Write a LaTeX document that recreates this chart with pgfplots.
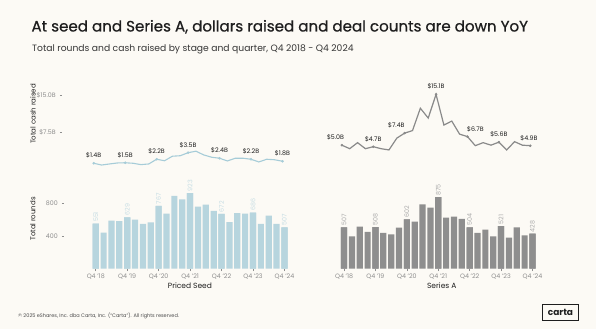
\documentclass[border=0pt]{standalone}
\usepackage{fontspec}
\setmainfont{Poppins}
\newfontfamily\titlefont{Poppins}[FakeBold=0.7]
\usepackage{pgfplots}
\pgfplotsset{compat=1.18}
\definecolor{bg}{HTML}{FCFAF5}
\definecolor{dark}{HTML}{1E1E1E}
\definecolor{tickgray}{HTML}{8E8E8E}
\definecolor{seedbar}{HTML}{B7D5DE}
\definecolor{seedline}{HTML}{A6CCD8}
\definecolor{seedlab}{HTML}{C6DDE4}
\definecolor{abar}{HTML}{8E8E8E}
\definecolor{aline}{HTML}{8A8A8A}
\definecolor{alab}{HTML}{ABABAB}
\pgfplotsset{
  base/.style={scale only axis, clip=false,
    axis x line*=bottom, axis y line*=left, axis line style={draw=none},
    tick align=outside, major tick length=2.5pt, tick style={tickgray, line width=0.5pt},
    /pgf/number format/assume math mode=true,
    tick label style={font=\fontsize{6.3}{7}\selectfont, text=tickgray},
    yticklabel style={xshift=-0.5pt},
  },
  bars/.style={base, height=81.75pt, ymin=0, ymax=1000,
    xtick={0,4,...,24}, xticklabels={Q4 '18,Q4 '19,Q4 '20,Q4 '21,Q4 '22,Q4 '23,Q4 '24},
    xticklabel style={yshift=0.5pt}},
  lines/.style={base, height=80.4pt, ymin=0, ymax=16, xtick=\empty},
}
\begin{document}
\begin{tikzpicture}[x=1pt,y=1pt]
\fill[bg] (0,0) rectangle (596,329);
\node[anchor=base west, inner sep=0, text=dark] at (31.3,297.5)
  {\titlefont\fontsize{15.1}{18}\selectfont At seed and Series A, dollars raised and deal counts are down YoY};
\node[anchor=base west, inner sep=0, text=dark!90] at (32,277.5)
  {\fontsize{9.2}{11}\selectfont Total rounds and cash raised by stage and quarter, Q4 2018 - Q4 2024};
\node[anchor=base west, inner sep=0, text=dark!80] at (18,11.5)
  {\fontsize{5}{6}\selectfont © 2025 eShares, Inc. dba Carta, Inc. (``Carta''). All rights reserved.};
\draw[dark, line width=1.1pt] (542.5,8.5) rectangle (578.5,24.5);
\node[text=dark, inner sep=0] at (560.5,16.3) {\fontsize{9}{10}\selectfont\bfseries carta};

% ---------- Priced Seed: rounds ----------
\begin{axis}[bars, at={(64.3pt,60.3pt)}, anchor=south west, width=228pt, xmin=-4, xmax=25,
  ytick={400,800},
  xlabel={Priced Seed}, xlabel style={at={(axis description cs:0.551,-0.248)}, anchor=base, font=\fontsize{7.5}{9}\selectfont, text=dark},
  ylabel={Total rounds}, ylabel style={at={(axis description cs:-0.1386,0.608)}, anchor=center, rotate=0, font=\fontsize{7}{8}\selectfont, text=dark}]
\addplot[ybar, bar width=6.2pt, bar shift=0pt, fill=seedbar, draw=none] table {
x y
0 551
1 441
2 588
3 583
4 629
5 600
6 547
7 567
8 767
9 673
10 890
11 849
12 923
13 759
14 783
15 706
16 672
17 571
18 681
19 673
20 686
21 547
22 649
23 547
24 507
};
\addplot[ybar, bar width=6.2pt, bar shift=0pt, fill=seedbar, draw=none,
  nodes near coords, nodes near coords style={rotate=90, anchor=west, inner sep=1.5pt, font=\fontsize{6.3}{7}\selectfont, text=seedlab}] table {
x y
0 551
4 629
8 767
12 923
16 672
20 686
24 507
};
\end{axis}

% ---------- Priced Seed: cash ----------
\begin{axis}[lines, at={(62.3pt,158.7pt)}, anchor=south west, width=228pt, xmin=-4, xmax=25,
  ytick={7.5,15}, yticklabels={\$7.5B,\$15.0B},
  ylabel={Total cash raised}, ylabel style={at={(axis description cs:-0.1285,0.70)}, anchor=center, rotate=0, font=\fontsize{7}{8}\selectfont, text=dark}]
\addplot[seedline, line width=1.1pt] table {
x y
0 1.4
1 1.05
2 1.26
3 1.46
4 1.5
5 1.4
6 1.13
7 1.26
8 2.2
9 1.9
10 2.8
11 2.9
12 3.5
13 3.8
14 3.05
15 2.6
16 2.4
17 1.86
18 2.4
19 2.4
20 2.2
21 1.66
22 2.2
23 2.1
24 1.8
};
\addplot[only marks, mark=*, mark size=1.1pt, seedline,
  nodes near coords={\$\pgfmathprintnumber[fixed,precision=1,fixed zerofill]{\pgfplotspointmeta}B},
  nodes near coords style={anchor=south, yshift=1.5pt, font=\fontsize{6.3}{7}\selectfont, text=dark}] table {
x y
0 1.4
4 1.5
8 2.2
12 3.5
16 2.4
20 2.2
24 1.8
};
\end{axis}

% ---------- Series A: rounds ----------
\begin{axis}[bars, at={(336.2pt,60.3pt)}, anchor=south west, width=204.1pt, xmin=-1, xmax=25,
  ytick=\empty,
  xlabel={Series A}, xlabel style={at={(axis description cs:0.517,-0.248)}, anchor=base, font=\fontsize{7.5}{9}\selectfont, text=dark}]
\addplot[ybar, bar width=6.2pt, bar shift=0pt, fill=abar, draw=none] table {
x y
0 507
1 396
2 514
3 449
4 508
5 437
6 420
7 502
8 602
9 575
10 787
11 747
12 875
13 624
14 636
15 608
16 504
17 437
18 477
19 396
20 521
21 379
22 506
23 408
24 428
};
\addplot[ybar, bar width=6.2pt, bar shift=0pt, fill=abar, draw=none,
  nodes near coords, nodes near coords style={rotate=90, anchor=west, inner sep=1.5pt, font=\fontsize{6.3}{7}\selectfont, text=alab}] table {
x y
0 507
4 508
8 602
12 875
16 504
20 521
24 428
};
\end{axis}

% ---------- Series A: cash ----------
\begin{axis}[lines, at={(334pt,158.7pt)}, anchor=south west, width=204.1pt, xmin=-1, xmax=25,
  ytick=\empty]
\addplot[aline, line width=1.2pt] table {
x y
0 5.0
1 4.3
2 5.5
3 4.3
4 4.7
5 4.3
6 4.05
7 6.4
8 7.4
9 7.9
10 12.35
11 10.4
12 15.1
13 9.0
14 9.8
15 7.2
16 6.7
17 4.9
18 5.5
19 5.0
20 5.6
21 4.05
22 5.7
23 5.0
24 4.9
};
\addplot[only marks, mark=*, mark size=1.1pt, aline,
  visualization depends on={\thisrow{dx}\as\dxval},
  nodes near coords={\$\pgfmathprintnumber[fixed,precision=1,fixed zerofill]{\pgfplotspointmeta}B},
  nodes near coords style={anchor=south, yshift=1.5pt, xshift=\dxval pt, font=\fontsize{6.3}{7}\selectfont, text=dark}] table {
x y dx
0 5.0 -6.3
4 4.7 0
8 7.4 -8.3
12 15.1 0
16 6.7 8
20 5.6 0
24 4.9 -1.3
};
\end{axis}
\end{tikzpicture}
\end{document}
